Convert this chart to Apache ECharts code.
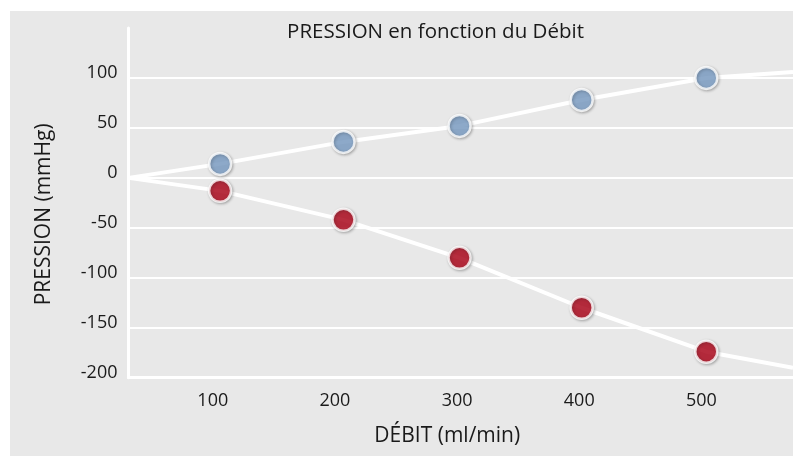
<!DOCTYPE html>
<html>
<head>
<meta charset="utf-8">
<script src="https://cdn.jsdelivr.net/npm/echarts@6/dist/echarts.min.js"></script>
<style>
html,body{margin:0;padding:0;background:#fff;}
#c{width:793px;height:456px;}
</style>
</head>
<body>
<div id="c"></div>
<script>
// ---- data ----
var xTickLabels = [100, 200, 300, 400, 500];
var yTicks = [-200, -150, -100, -50, 0, 50, 100];
var debitX = [106, 207, 302, 402, 504];
var pressionPositive = [14, 36, 52, 78, 100];
var pressionNegative = [-13, -42, -80, -130, -174];
var lineStart = [31, 0];
var positiveLineEnd = [575, 106];
var negativeLineEnd = [575, -190];

var titleText = 'PRESSION en fonction du Débit';
var xName = 'DÉBIT (ml/min)';
var yName = 'PRESSION (mmHg)';

function pairs(xs, ys) { return xs.map(function (x, i) { return [x, ys[i]]; }); }
var positivePts = pairs(debitX, pressionPositive);
var negativePts = pairs(debitX, pressionNegative);
var positiveLine = [lineStart].concat(positivePts, [positiveLineEnd]);
var negativeLine = [lineStart].concat(negativePts, [negativeLineEnd]);

var FONT = 'Open Sans';
var TXT = '#1a1a1a';

var chart = echarts.init(document.getElementById('c'), null, {renderer: 'canvas'});
var markerStyle = function (color) {
  return {
    color: color, borderColor: '#ffffff', borderWidth: 2.5,
    shadowColor: 'rgba(0,0,0,0.3)', shadowBlur: 3, shadowOffsetX: 1, shadowOffsetY: 1
  };
};
chart.setOption({
  animation: false,
  backgroundColor: '#ffffff',
  graphic: [
    {type: 'rect', z: -10, silent: true,
     shape: {x: 10, y: 11, width: 820, height: 470, r: [0, 0, 0, 24]},
     style: {fill: '#e8e8e8'}},
    {type: 'text', z: 10, silent: true, x: 435.5, y: 32,
     style: {text: titleText, fill: TXT, font: '20.5px "' + FONT + '"', textAlign: 'center', textVerticalAlign: 'middle'}}
  ],
  grid: {left: 128.5, right: 0, top: 28, bottom: 78.3, containLabel: false},
  xAxis: {
    type: 'value', min: lineStart[0], max: positiveLineEnd[0],
    name: xName, nameLocation: 'middle', nameGap: 48,
    nameTextStyle: {color: TXT, fontSize: 21, fontFamily: FONT, padding: [0, 27, 0, 0]},
    axisLine: {show: true, onZero: false, lineStyle: {color: '#ffffff', width: 3}},
    axisTick: {show: false},
    splitLine: {show: false},
    axisLabel: {customValues: xTickLabels, color: TXT, fontSize: 18, fontFamily: FONT, margin: 14}
  },
  yAxis: {
    type: 'value', min: -200, max: 150, interval: 50,
    name: yName, nameLocation: 'middle', nameGap: 74, nameRotate: 90,
    nameTextStyle: {color: TXT, fontSize: 21, fontFamily: FONT, padding: [0, 23, 0, 0]},
    axisLine: {show: true, lineStyle: {color: '#ffffff', width: 3}},
    axisTick: {show: false},
    splitLine: {show: true, showMaxLine: false, lineStyle: {color: '#ffffff', width: 2}},
    axisLabel: {color: TXT, fontSize: 18, fontFamily: FONT, margin: 11, showMaxLabel: false,
                verticalAlign: 'bottom', lineHeight: 10}
  },
  series: [
    {type: 'line', data: positiveLine, showSymbol: false, symbol: 'none', silent: true,
     lineStyle: {color: '#ffffff', width: 4}, z: 2},
    {type: 'line', data: negativeLine, showSymbol: false, symbol: 'none', silent: true,
     lineStyle: {color: '#ffffff', width: 4}, z: 2},
    {type: 'scatter', data: positivePts, symbol: 'circle', symbolSize: 22,
     itemStyle: markerStyle('#7fa2cb'), z: 5},
    {type: 'scatter', data: negativePts, symbol: 'circle', symbolSize: 22,
     itemStyle: markerStyle('#b3081d'), z: 5}
  ]
});
</script>
</body>
</html>
